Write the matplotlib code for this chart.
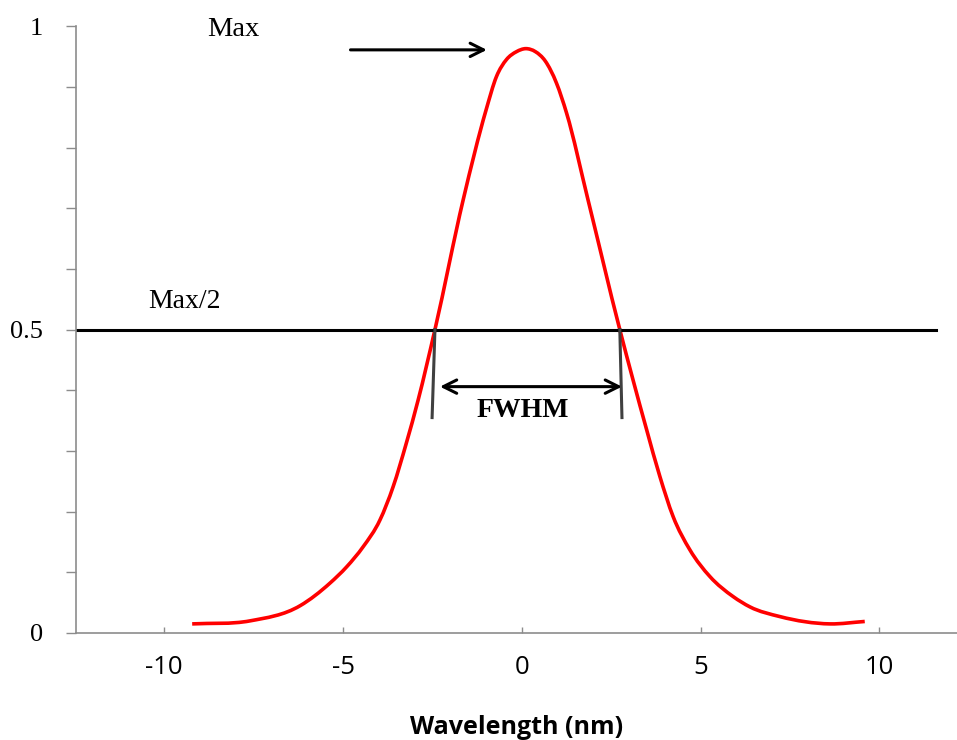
import matplotlib
matplotlib.use("Agg")
import matplotlib.pyplot as plt
import numpy as np
from matplotlib.path import Path
from matplotlib.patches import PathPatch
from matplotlib.ticker import MultipleLocator

# points
wavelength = [-9.22, -7.6, -6.2, -5.37, -4.90, -4.44, -3.97, -3.60, -3.23, -2.90,
              -2.43, -1.64, -1.0, -0.71, -0.43, -0.15, 0.11, 0.38, 0.65, 0.97,
              1.25, 1.85, 2.74, 3.11, 3.49, 3.86, 4.23, 4.70, 5.26, 5.91,
              6.38, 7.22, 8.62, 9.59]
intensity = [0.015, 0.020, 0.045, 0.082, 0.109, 0.142, 0.186, 0.241, 0.313, 0.384,
             0.500, 0.714, 0.862, 0.917, 0.945, 0.958, 0.963, 0.958, 0.943, 0.906,
             0.857, 0.714, 0.500, 0.417, 0.335, 0.258, 0.192, 0.137, 0.093, 0.060,
             0.043, 0.027, 0.015, 0.019]

half_max = 0.5
fwhm_left = -2.43
fwhm_right = 2.74
x_ticks = [-10, -5, 0, 5, 10]
y_ticks = [0, 0.5, 1]
y_tick_labels = ["0", "0.5", "1"]


def smooth_path(xs, ys):
    # smoothed line like Excel's: cubic Bezier segments between the read points,
    # slopes from the neighbouring points (works with uneven spacing)
    x = np.asarray(xs, float)
    y = np.asarray(ys, float)
    h = np.diff(x)
    d = np.diff(y) / h
    m = np.empty_like(x)
    m[0], m[-1] = d[0], d[-1]
    m[1:-1] = (d[:-1] * h[1:] + d[1:] * h[:-1]) / (h[:-1] + h[1:])
    verts = [(x[0], y[0])]
    codes = [Path.MOVETO]
    for i in range(len(x) - 1):
        verts += [(x[i] + h[i] / 3, y[i] + m[i] * h[i] / 3),
                  (x[i + 1] - h[i] / 3, y[i + 1] - m[i + 1] * h[i] / 3),
                  (x[i + 1], y[i + 1])]
        codes += [Path.CURVE4] * 3
    return Path(verts, codes)


fig = plt.figure(figsize=(9.57, 7.4), dpi=100)
ax = fig.add_axes([0.079, 0.1446, 0.921, 0.820])

ax.add_patch(PathPatch(smooth_path(wavelength, intensity), facecolor="none",
                       edgecolor="#ff0000", lw=2.6))

# Max/2 line
ax.plot([-12.48, 11.58], [half_max, half_max], color="black", lw=2.2)
ax.text(-9.43, 0.546, "Max/2", family="Liberation Serif", fontsize=20,
        ha="center", va="center")

# Max arrow
ax.annotate("", xy=(-0.9, 0.961), xytext=(-4.87, 0.961),
            arrowprops=dict(arrowstyle="->", lw=2.2, color="black", mutation_scale=24))
ax.text(-8.08, 0.994, "Max", family="Liberation Serif", fontsize=20.5,
        ha="center", va="center")

# FWHM markers
ax.plot([fwhm_left, fwhm_left - 0.08], [half_max, 0.355], color="#404040", lw=2.2)
ax.plot([fwhm_right, fwhm_right + 0.06], [half_max, 0.355], color="#404040", lw=2.2)
ax.annotate("", xy=(-2.29, 0.406), xytext=(2.80, 0.406),
            arrowprops=dict(arrowstyle="<->", lw=2.2, color="black", mutation_scale=24,
                            shrinkA=0, shrinkB=0))
ax.text(0.03, 0.366, "FWHM", family="Liberation Serif", fontsize=20,
        fontweight="bold", ha="center", va="center")

ax.set_xlim(-12.48, 12.17)
ax.set_ylim(0, 1)

for side in ["top", "right"]:
    ax.spines[side].set_visible(False)
for side in ["left", "bottom"]:
    ax.spines[side].set_color("#8c8c8c")
    ax.spines[side].set_linewidth(1.2)

ax.set_xticks(x_ticks)
ax.set_xticklabels([str(t) for t in x_ticks], family="Open Sans", fontsize=18.5)
ax.tick_params(axis="x", direction="in", length=4.5, width=1.0, color="#8c8c8c", pad=16)

ax.set_yticks(y_ticks)
ax.set_yticklabels(y_tick_labels, family="Liberation Serif", fontsize=19)
ax.yaxis.set_minor_locator(MultipleLocator(0.1))
ax.tick_params(axis="y", which="both", direction="out", length=7.2, width=1.0,
               color="#8c8c8c", pad=16.5)

ax.set_xlabel("Wavelength (nm)", family="Open Sans", fontsize=18, fontweight="bold",
              labelpad=25)

fig.savefig("out.png", dpi=100)
